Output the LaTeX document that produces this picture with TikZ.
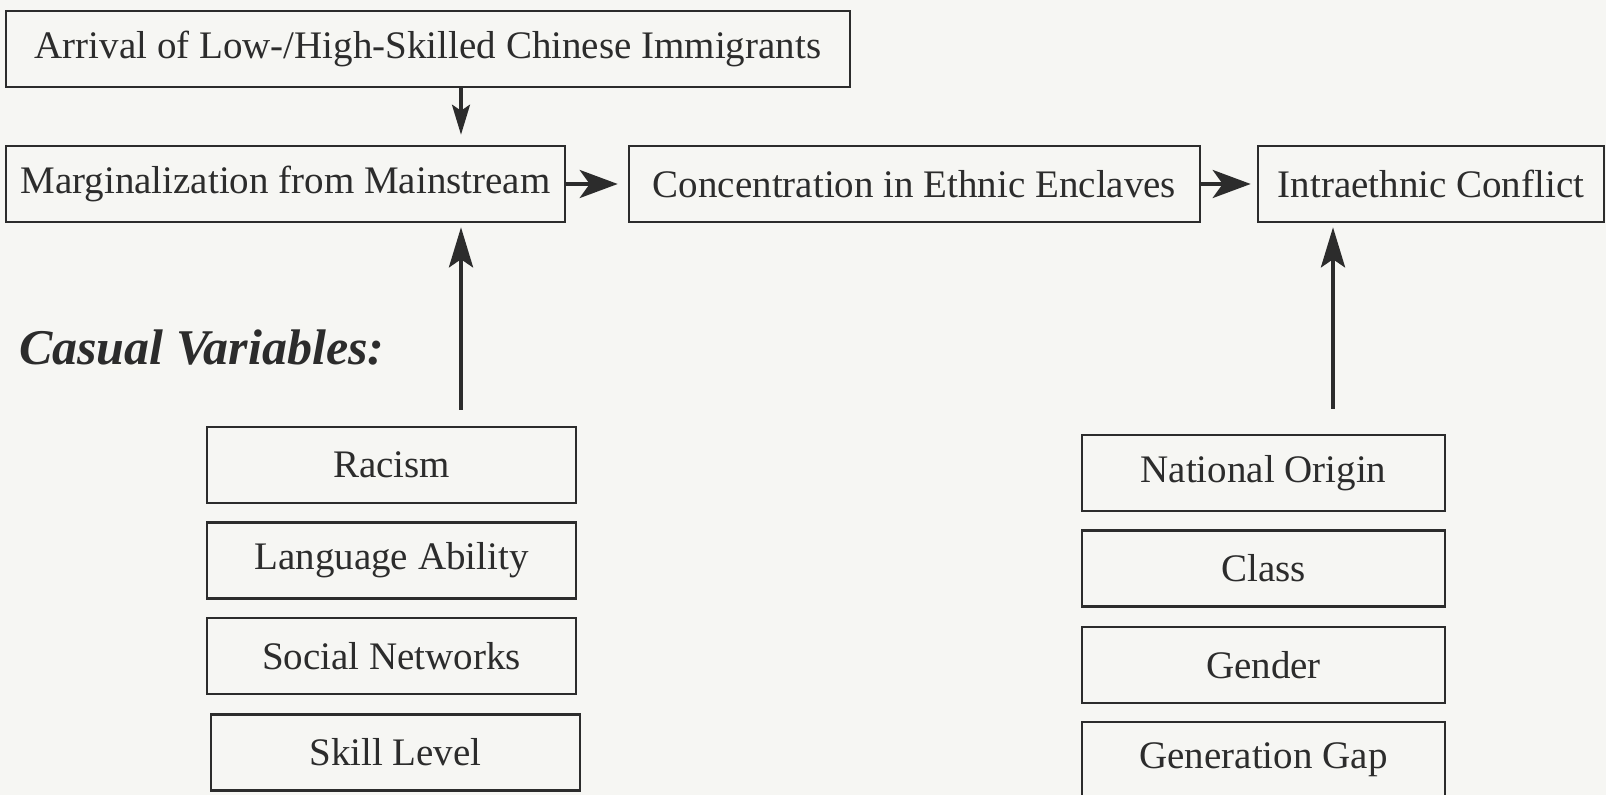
\documentclass[tikz,border=0pt]{standalone}
\usepackage{fontspec}
\setmainfont{Liberation Serif}
\usetikzlibrary{arrows.meta,calc}
\definecolor{ink}{RGB}{44,44,44}
\definecolor{paper}{RGB}{246,246,243}
\tikzset{b/.style={draw=ink,line width=1.3pt,text=ink,inner sep=0pt,minimum height=38pt,font=\fontsize{19.5}{22}\selectfont}}
\tikzset{hd/.style={draw=ink,fill=ink,line width=2pt,-{Stealth[length=19pt,width=14pt,inset=5pt]}}}
\tikzset{dn/.style={draw=ink,fill=ink,line width=1.6pt,-{Stealth[length=15pt,width=9pt,inset=3pt]}}}
\tikzset{up/.style={draw=ink,fill=ink,line width=2.2pt,-{Stealth[length=20pt,width=12pt,inset=4pt]}}}

\begin{document}
\begin{tikzpicture}[x=0.5pt,y=-0.5pt]
  \fill[paper] (0,0) rectangle (1606,795);
  \useasboundingbox (0,0) rectangle (1606,795);
  \coordinate (lx) at (461,0);
  \coordinate (rx) at (1333,0);
  % top row
  \node[b,minimum width=422pt] (arr) at (428,49) {Arrival of Low-/High-Skilled Chinese Immigrants};
  \node[b,minimum width=279.5pt] (marg) at (285.5,184) {Marginalization from Mainstream};
  \node[b,minimum width=285.5pt] (conc) at (914.5,184) {Concentration in Ethnic Enclaves};
  \node[b,minimum width=173pt] (intra) at (1431,184) {Intraethnic Conflict};
  \node[anchor=west,text=ink,font=\fontsize{25}{28}\selectfont\bfseries\itshape] (cv) at (12,348) {Casual Variables:};
  % left causes
  \node[b,minimum width=184.5pt] (rac) at (391.5,465) {Racism};
  \node[b,minimum width=184.5pt] (lang) at (391.5,560.5) {Language Ability};
  \node[b,minimum width=184.5pt] (soc) at (391.5,656) {Social Networks};
  \node[b,minimum width=184.5pt] (skill) at (395.5,752.5) {Skill Level};
  % right causes
  \node[b,minimum width=181.5pt] (nat) at (1263.5,473) {National Origin};
  \node[b,minimum width=181.5pt] (cls) at (1263.5,568.5) {Class};
  \node[b,minimum width=181.5pt] (gen) at (1263.5,665) {Gender};
  \node[b,minimum width=181.5pt] (gap) at (1263.5,760) {Generation Gap};
  % arrows
  \draw[dn] (arr.south -| lx) -- ($(marg.north -| lx)+(0,-10)$);
  \draw[hd] (marg.east) -- ($(conc.west)+(-10,0)$);
  \draw[hd] (conc.east) -- ($(intra.west)+(-6,0)$);
  \draw[up] ($(rac.north -| lx)+(0,-16)$) -- ($(marg.south -| lx)+(0,4)$);
  \draw[up] ($(nat.north -| rx)+(0,-25)$) -- ($(intra.south -| rx)+(0,4)$);
\end{tikzpicture}
\end{document}
